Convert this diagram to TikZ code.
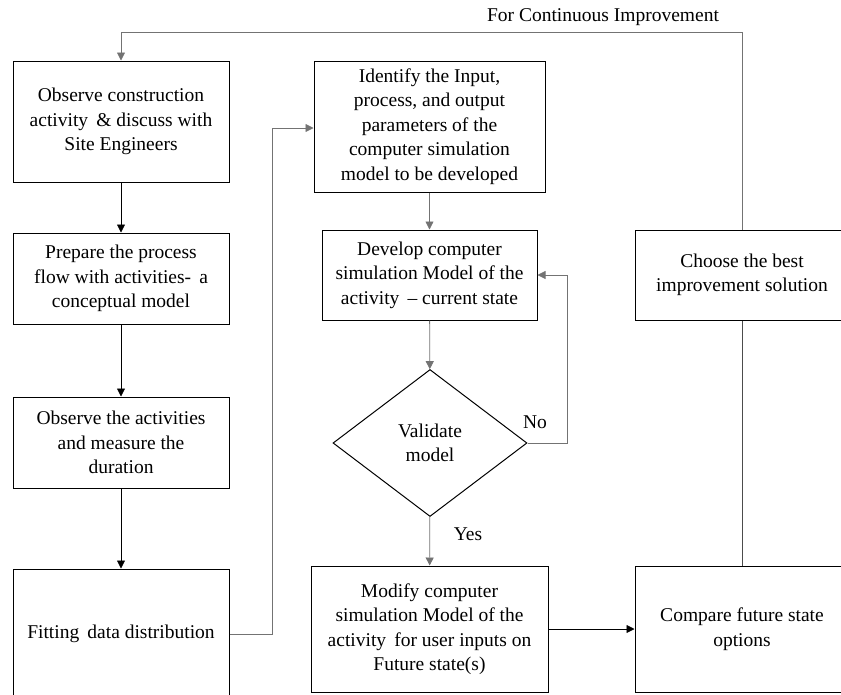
\documentclass[tikz,border=0pt]{standalone}
\usepackage{fontspec}
\setmainfont{Liberation Serif}
\usetikzlibrary{shapes.geometric,arrows.meta}
\tikzset{
    procbox/.style={draw,line width=1pt,align=center,inner sep=2pt},
    decbox/.style={diamond,draw,line width=1pt,align=center,inner sep=0pt,
        minimum width=194pt,minimum height=147pt},
    flow/.style={-{Triangle[length=8pt,width=8pt]},line width=0.8pt},
    gflow/.style={flow,draw=black!55},
}
\begin{document}
\begin{tikzpicture}[x=1pt,y=-1pt,font=\fontsize{19.5}{24.5}\selectfont]
    \clip (0,0) rectangle (841,694);
    %draw left column
    \node[procbox,minimum width=216pt,minimum height=121pt] (obs) at (121,121.5)
        {Observe construction\\activity \,\& discuss with\\Site Engineers};
    \node[procbox,minimum width=216pt,minimum height=91pt] (prep) at (121,278.5)
        {Prepare the process\\flow with activities- \,a\\conceptual model};
    \node[procbox,minimum width=216pt,minimum height=91pt] (meas) at (121,442.5)
        {Observe the activities\\and measure the\\duration};
    \node[procbox,minimum width=216pt,minimum height=130pt] (fit) at (121,634)
        {Fitting \,data distribution};
    %draw middle column
    \node[procbox,minimum width=231pt,minimum height=131pt] (ident) at (429.5,126.5)
        {Identify the Input,\\process, and output\\parameters of the\\computer simulation\\model to be developed};
    \node[procbox,minimum width=215pt,minimum height=90pt] (dev) at (429.5,275)
        {Develop computer\\simulation Model of the\\activity \,-- current state};
    \node[decbox] (val) at (430,443) {Validate\\model};
    \node[procbox,minimum width=237pt,minimum height=126pt] (mod) at (429.5,629)
        {Modify computer\\simulation Model of the\\activity \,for user inputs on\\Future state(s)};
    %draw right column
    \node[procbox,minimum width=214pt,minimum height=90pt] (choose) at (742,275)
        {Choose the best\\improvement solution};
    \node[procbox,minimum width=214pt,minimum height=126pt] (comp) at (742,629)
        {Compare future state\\options};
    %draw labels
    \node (imprlbl) at (603,17) {For Continuous Improvement};
    \node (nolbl) at (535,422) {No};
    \node (yeslbl) at (468,534) {Yes};
    %draw bend points
    \coordinate (topr) at (742,32);
    \coordinate (topl) at (121,32);
    \coordinate (fitup) at (272,128);
    \coordinate (noup) at (567,275);
    %draw lines
    \draw [flow] (obs) -- (prep);
    \draw [flow] (prep) -- (meas);
    \draw [flow] (meas) -- (fit);
    \draw [gflow] (fit.east) -| (fitup) -- (ident.west |- fitup);
    \draw [gflow] (ident) -- (dev);
    \draw [gflow] (dev) -- (val);
    \draw [gflow] (val.east) -| (noup) -- (dev.east |- noup);
    \draw [gflow] (val) -- (mod);
    \draw [flow] (mod) -- (comp);
    \draw [line width=0.8pt,black!70] (comp) -- (choose);
    \draw [gflow] (choose.north) -- (topr) -- (topl) -- (obs.north);
\end{tikzpicture}
\end{document}
